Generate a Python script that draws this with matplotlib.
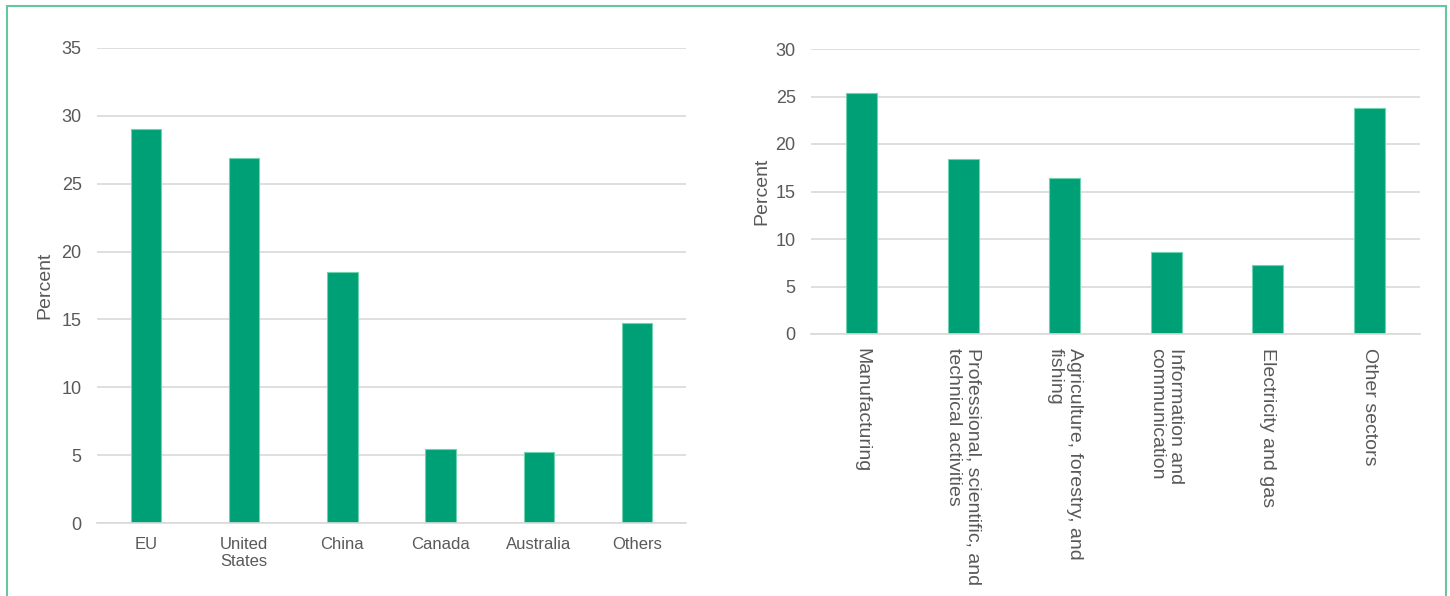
import matplotlib.pyplot as plt
import matplotlib.patches as mpatches

plt.rcParams['font.family'] = ['Liberation Sans', 'DejaVu Sans']

# Left panel: share by origin
origins = ['EU', 'United\nStates', 'China', 'Canada', 'Australia', 'Others']
origin_pct = [29.0, 26.9, 18.5, 5.45, 5.25, 14.75]

# Right panel: share by sector
sectors = ['Manufacturing',
           'Professional, scientific, and\ntechnical activities',
           'Agriculture, forestry, and\nfishing',
           'Information and\ncommunication',
           'Electricity and gas',
           'Other sectors']
sector_pct = [25.4, 18.4, 16.4, 8.6, 7.25, 23.8]

bar_color = '#00a077'
edge_color = '#6fd3ae'
grid_color = '#d9d9d9'
text_color = '#595959'

fig = plt.figure(figsize=(14.5, 5.96), dpi=100)

# green frame around the whole figure
frame = mpatches.Rectangle((7 / 1450, -0.05), 1439 / 1450, 1.05 - 6 / 596,
                           transform=fig.transFigure, fill=False,
                           edgecolor='#66c79f', linewidth=1.5)
fig.patches.append(frame)


def style_axes(ax, ymax, step):
    ax.set_ylim(0, ymax)
    ax.set_yticks(range(0, ymax + 1, step))
    ax.grid(True, axis='y', color=grid_color, linewidth=1.2)
    ax.set_axisbelow(True)
    for side in ['top', 'right', 'left']:
        ax.spines[side].set_visible(False)
    ax.spines['bottom'].set_color(grid_color)
    ax.spines['bottom'].set_linewidth(1.2)
    ax.tick_params(axis='both', length=0, colors=text_color, labelsize=13)
    ax.tick_params(axis='y', pad=11)
    ax.set_ylabel('Percent', color=text_color, fontsize=14)


ax1 = fig.add_axes([97 / 1450, 1 - 523 / 596, 589 / 1450, 475 / 596])
x1 = range(len(origins))
ax1.bar(x1, origin_pct, width=0.31, color=bar_color,
        edgecolor=edge_color, linewidth=0.8)
ax1.set_xlim(-0.5, len(origins) - 0.5)
style_axes(ax1, 35, 5)
ax1.set_xticks(list(x1))
ax1.set_xticklabels(origins, fontsize=12, linespacing=1.2)
ax1.tick_params(axis='x', pad=10)
ax1.yaxis.labelpad = 6

ax2 = fig.add_axes([811 / 1450, 1 - 334 / 596, 609 / 1450, 285 / 596])
x2 = range(len(sectors))
ax2.bar(x2, sector_pct, width=0.31, color=bar_color,
        edgecolor=edge_color, linewidth=0.8)
ax2.set_xlim(-0.5, len(sectors) - 0.5)
style_axes(ax2, 30, 5)
ax2.set_xticks(list(x2))
ax2.set_xticklabels(sectors, rotation=270, ha='center', va='top',
                    multialignment='left', fontsize=14, linespacing=1.15)
ax2.tick_params(axis='x', pad=10)
ax2.yaxis.labelpad = 4

plt.savefig('out.png', dpi=100)
